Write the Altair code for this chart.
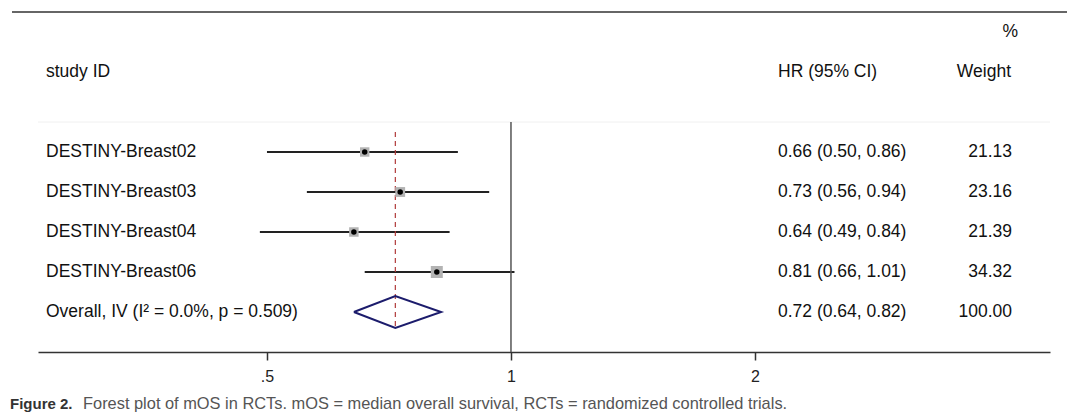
import altair as alt
import pandas as pd

# ---- data ----
studies = ["DESTINY-Breast02", "DESTINY-Breast03", "DESTINY-Breast04", "DESTINY-Breast06"]
hr = [0.66, 0.73, 0.64, 0.81]
ci_lo = [0.50, 0.56, 0.49, 0.66]
ci_hi = [0.86, 0.94, 0.84, 1.01]
weights = [21.13, 23.16, 21.39, 34.32]
hr_text = ["0.66 (0.50, 0.86)", "0.73 (0.56, 0.94)", "0.64 (0.49, 0.84)", "0.81 (0.66, 1.01)"]
weight_text = ["21.13", "23.16", "21.39", "34.32"]

overall_label = "Overall, IV (I\u00b2 = 0.0%, p = 0.509)"
overall_hr = 0.72
overall_lo = 0.64
overall_hi = 0.82
overall_hr_text = "0.72 (0.64, 0.82)"
overall_weight_text = "100.00"

tick_values = [0.5, 1, 2]
caption_bold = "Figure 2."
caption_rest = "Forest plot of mOS in RCTs. mOS = median overall survival, RCTs = randomized controlled trials."

# ---- tables ----
n = len(studies)
studies_df = pd.DataFrame({
    "row": list(range(n)),
    "study": studies, "hr": hr, "lo": ci_lo, "hi": ci_hi,
    "weight": weights, "hr_text": hr_text, "w_text": weight_text,
})
orow = n
labels_df = pd.DataFrame({
    "row": list(range(n)) + [orow],
    "study": studies + [overall_label],
    "hr_text": hr_text + [overall_hr_text],
    "w_text": weight_text + [overall_weight_text],
})
half = 0.4
diamond_df = pd.DataFrame({
    "x": [overall_lo, overall_hr, overall_hi, overall_hr, overall_lo],
    "row": [orow, orow - half, orow, orow + half, orow],
    "order": [0, 1, 2, 3, 4],
})
header_df = pd.DataFrame({"row": [-2], "study": ["study ID"], "hr_text": ["HR (95% CI)"], "w_text": ["Weight"]})
pct_df = pd.DataFrame({"row": [-3], "t": ["%"]})
null_df = pd.DataFrame({"x": [1.0], "r1": [-0.75], "r2": [5.0]})
pooled_df = pd.DataFrame({"x": [overall_hr], "r1": [-0.5], "r2": [orow + 0.45]})

W, H = 1012, 340
FONT = "Liberation Sans"
FS = 17.5

xscale = alt.Scale(type="log", domain=[0.2609, 4.624], nice=False)
yscale = alt.Scale(domain=[-3.5, 5], reverse=True, nice=False, zero=False)
xaxis = alt.Axis(
    values=tick_values,
    labelExpr="datum.value == 0.5 ? '.5' : format(datum.value, 'd')",
    title=None, grid=False, domainColor="#333", domainWidth=1.5,
    tickColor="#333", tickSize=8, tickWidth=1.5, labelFontSize=16,
    labelColor="#222", labelFont=FONT, labelPadding=8,
)
Y = alt.Y("row:Q", scale=yscale, axis=None)

ci = alt.Chart(studies_df).mark_rule(color="#222", strokeWidth=2).encode(
    x=alt.X("lo:Q", scale=xscale, axis=xaxis), x2="hi:Q", y=Y)

null_line = alt.Chart(null_df).mark_rule(color="#555", strokeWidth=1.5).encode(
    x=alt.X("x:Q", scale=xscale), y=alt.Y("r1:Q", scale=yscale, axis=None), y2="r2:Q")

sep_line = alt.Chart(null_df).mark_rule(color="#f0f0f0", strokeWidth=1).encode(
    x=alt.value(0), x2=alt.value(W), y=alt.Y("r1:Q", scale=yscale, axis=None))

pooled_line = alt.Chart(pooled_df).mark_rule(color="#b03a3a", strokeWidth=1.2, strokeDash=[5, 4]).encode(
    x=alt.X("x:Q", scale=xscale), y=alt.Y("r1:Q", scale=yscale, axis=None), y2="r2:Q")

boxes = alt.Chart(studies_df).mark_square(color="#b3b3b3", opacity=1).encode(
    x=alt.X("hr:Q", scale=xscale), y=Y,
    size=alt.Size("weight:Q", scale=alt.Scale(domain=[0, 34.32], range=[0, 144]), legend=None))

dots = alt.Chart(studies_df).mark_circle(color="#000", size=30, opacity=1).encode(
    x=alt.X("hr:Q", scale=xscale), y=Y)

diamond = alt.Chart(diamond_df).mark_line(color="#1c1c6c", strokeWidth=2).encode(
    x=alt.X("x:Q", scale=xscale), y=Y, order="order:Q")

txt = dict(font=FONT, fontSize=FS, color="#111", baseline="middle")
names = alt.Chart(labels_df).mark_text(align="left", **txt).encode(x=alt.value(8), y=Y, text="study:N")
hrs = alt.Chart(labels_df).mark_text(align="left", **txt).encode(x=alt.value(740), y=Y, text="hr_text:N")
wts = alt.Chart(labels_df).mark_text(align="right", **txt).encode(x=alt.value(974), y=Y, text="w_text:N")
h1 = alt.Chart(header_df).mark_text(align="left", **txt).encode(x=alt.value(8), y=Y, text="study:N")
h2 = alt.Chart(header_df).mark_text(align="left", **txt).encode(x=alt.value(740), y=Y, text="hr_text:N")
h3 = alt.Chart(header_df).mark_text(align="right", **txt).encode(x=alt.value(973), y=Y, text="w_text:N")
h4 = alt.Chart(pct_df).mark_text(align="right", **txt).encode(x=alt.value(980), y=Y, text="t:N")

top_line = alt.Chart(pct_df).mark_rule(color="#666", strokeWidth=2).encode(
    x=alt.value(-26), x2=alt.value(1029), y=alt.value(0))

cap_df = pd.DataFrame({"a": [caption_bold], "b": [caption_rest]})
cap1 = alt.Chart(cap_df).mark_text(align="left", baseline="alphabetic", font=FONT, fontSize=15,
                                   fontWeight="bold", color="#333").encode(
    x=alt.value(-28), y=alt.value(397), text="a:N")
cap2 = alt.Chart(cap_df).mark_text(align="left", baseline="alphabetic", font=FONT, fontSize=16.4,
                                   color="#555").encode(
    x=alt.value(45), y=alt.value(397), text="b:N")

chart = alt.layer(
    ci, sep_line, null_line, pooled_line, boxes, dots, diamond,
    names, hrs, wts, h1, h2, h3, h4, top_line, cap1, cap2,
).properties(
    width=W, height=H,
    autosize=alt.AutoSizeParams(type="none"),
    padding={"left": 30, "top": 4, "right": 22, "bottom": 62},
).configure_view(stroke=None)

chart.save("out.html", embed_options={"renderer": "svg", "actions": False})
